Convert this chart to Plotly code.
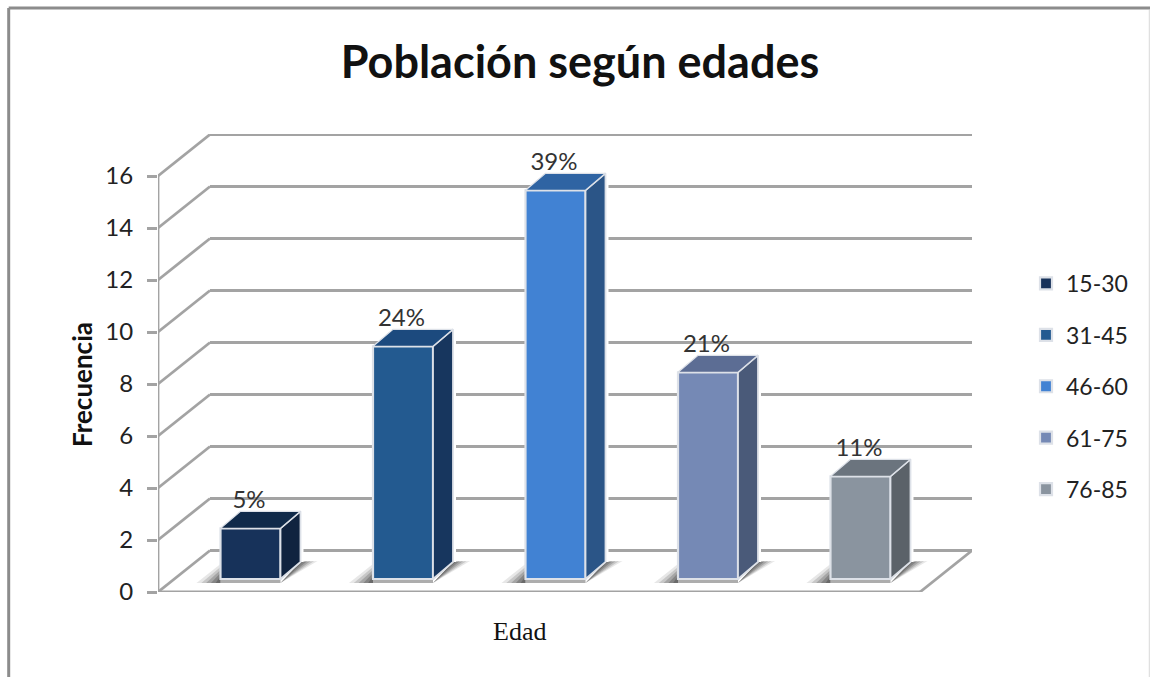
import plotly.graph_objects as go

W, H = 1150, 677
# plot-area pixel box, used only to set the margins
L, R, T, B = 158, 972, 134, 592

ages = ["15-30", "31-45", "46-60", "61-75", "76-85"]
freq = [2, 9, 15, 8, 4]
pct = ["5%", "24%", "39%", "21%", "11%"]
front = ["#17325a", "#235a90", "#4182d3", "#7589b5", "#8a949f"]
side = ["#10233f", "#17365e", "#2b5587", "#4a5a79", "#5b6269"]
top = ["#102a4a", "#1c4a7e", "#2f64a3", "#5c6d94", "#6b747e"]
ticks = list(range(0, 17, 2))

PX_X = 152.5            # px per category
PX_Y = (592 - 176) / 16  # px per value unit
x0 = -(250.5 - L) / PX_X
x1 = x0 + (R - L) / PX_X
y1 = (B - T) / PX_Y

WALL_X, WALL_Y = 52 / PX_X, 41.5 / PX_Y   # depth of the box
BAR_W = 60 / PX_X
DEP_X, DEP_Y = 20 / PX_X, 17 / PX_Y        # depth of a bar
BASE = 0.5
FRONT_R = x1 - WALL_X                      # right end of front floor edge

GRID = "#a3a3a3"
EDGE = "#dde1e8"

shapes = []


def line(xa, ya, xb, yb, color=GRID, width=2.8):
    shapes.append(dict(type="line", layer="below", xref="x", yref="y", x0=xa, y0=ya, x1=xb, y1=yb,
                       line=dict(color=color, width=width)))


def poly(pts, color, opacity=1):
    path = "M" + "L".join(f"{a},{b}" for a, b in pts) + "Z"
    shapes.append(dict(type="path", layer="below", xref="x", yref="y", path=path,
                       fillcolor=color, opacity=opacity, line=dict(width=0)))


# walls: one bent line per tick
for t in ticks:
    if t > 0:
        line(x0, t, x0 + WALL_X, t + WALL_Y)
    line(x0 + WALL_X, t + WALL_Y, x1, t + WALL_Y)
line(x0, 0, x0, 16)                         # left front edge
line(x0, 0, x0 + WALL_X, WALL_Y)            # floor left
line(x0, 0, FRONT_R, 0)                     # floor front
line(FRONT_R, 0, x1, WALL_Y)                # floor right

# soft floor shadows, layered translucent polygons
for i in range(5):
    hw = BAR_W / 2
    yb = BASE - 4 / PX_Y
    for k, op in zip([1.0, 0.8, 0.6, 0.4, 0.2], [0.12, 0.18, 0.24, 0.3, 0.35]):
        poly([(i - hw - 24 * k / PX_X, yb), (i - hw, BASE + 15 * k / PX_Y), (i - hw, yb)], "#3a3a3a", op)
        poly([(i + hw, yb), (i + hw + DEP_X + 17 * k / PX_X, BASE + DEP_Y + 1 / PX_Y),
              (i + hw + DEP_X, BASE + DEP_Y)], "#3a3a3a", op)
    poly([(i - hw, yb), (i + hw, yb), (i + hw, BASE), (i - hw, BASE)], "#8a8a8a", 0.7)

fig = go.Figure()

# front faces (legend entries)
for i, name in enumerate(ages):
    fig.add_trace(go.Bar(x=[i], y=[freq[i] - 0.05], base=[BASE], width=BAR_W, name=name, legendgroup=name,
                         marker=dict(color=front[i], line=dict(color=EDGE, width=2.2))))

# side and top faces with a white halo that interrupts the grid
for i in range(5):
    r = i + BAR_W / 2
    l = i - BAR_W / 2
    h = BASE + freq[i] - 0.05
    xs = [r, r + DEP_X, r + DEP_X, r, r]
    ys = [BASE, BASE + DEP_Y, h + DEP_Y, h, BASE]
    fig.add_trace(go.Scatter(x=[r + DEP_X, r + DEP_X], y=[BASE + DEP_Y, h + DEP_Y], mode="lines",
                             line=dict(color="white", width=6), showlegend=False, hoverinfo="skip"))
    fig.add_trace(go.Scatter(x=xs, y=ys, mode="lines", fill="toself", fillcolor=side[i],
                             line=dict(color=EDGE, width=1.8), showlegend=False, hoverinfo="skip"))
    xs = [l, l + DEP_X, r + DEP_X, r, l]
    ys = [h, h + DEP_Y, h + DEP_Y, h, h]
    fig.add_trace(go.Scatter(x=xs, y=ys, mode="lines", fill="toself", fillcolor=top[i],
                             line=dict(color=EDGE, width=1.2), showlegend=False, hoverinfo="skip"))

# percentage labels
fig.add_trace(go.Scatter(x=[i - 0.01 for i in range(5)], y=[BASE + v - 0.05 + 1.03 for v in freq],
                         mode="text", text=pct, textposition="middle center",
                         textfont=dict(family="Lato", size=24, color="#333333"),
                         showlegend=False, hoverinfo="skip", cliponaxis=False))

# frame
for (a, b, c, d, col, wd) in [(8.7, 8, W, 8, "#8c8c8c", 3), (8.7, 8, 8.7, H, "#8c8c8c", 3),
                              (1149.5, 10, 1149.5, H, "#e0e0e0", 1.5)]:
    shapes.append(dict(type="line", xref="paper", yref="paper", layer="above",
                       x0=(a - L) / (R - L), x1=(c - L) / (R - L),
                       y0=(B - b) / (B - T), y1=(B - d) / (B - T),
                       line=dict(color=col, width=wd)))

fig.update_layout(
    width=W, height=H, autosize=False,
    margin=dict(l=L, r=W - R, t=T, b=H - B, pad=0),
    paper_bgcolor="white", plot_bgcolor="rgba(0,0,0,0)",
    barmode="overlay", shapes=shapes, showlegend=True,
    title=dict(text="<b>Población según edades</b>", x=580 / W, xanchor="center", y=1 - 62 / H, yanchor="middle",
               font=dict(family="Lato", size=45, color="#111111")),
    legend=dict(x=(1026 - L) / (R - L), y=(B - 262) / (B - T), xref="paper", yref="paper",
                xanchor="left", yanchor="top", tracegroupgap=18.5,
                font=dict(family="Lato", size=23, color="#222222"), bgcolor="rgba(0,0,0,0)"),
    xaxis=dict(range=[x0, x1], showgrid=False, zeroline=False, showline=False, showticklabels=False, ticks="",
               fixedrange=True),
    yaxis=dict(range=[0, y1], tickmode="array", tickvals=ticks, ticktext=[str(t) for t in ticks],
               showgrid=False, zeroline=False, showline=False, ticks="outside", ticklen=10, tickwidth=2.6,
               ticklabelstandoff=9,
               tickcolor=GRID, tickfont=dict(family="Lato", size=24, color="#222222"), fixedrange=True),
    annotations=[
        dict(text="<b>Frecuencia</b>", textangle=-90, x=(82 - L) / (R - L), y=(B - 385) / (B - T),
             xref="paper", yref="paper", xanchor="center", yanchor="middle",
             showarrow=False, font=dict(family="Lato", size=26, color="#111111")),
        dict(text="Edad", x=(519 - L) / (R - L), y=(B - 631) / (B - T), xref="paper", yref="paper",
             xanchor="center", yanchor="middle", showarrow=False,
             font=dict(family="Liberation Serif", size=26, color="#111111")),
    ],
)

fig.write_html("out.html", config={"displayModeBar": False},
               post_script="document.body.style.margin='0';document.documentElement.style.overflow='hidden';")
